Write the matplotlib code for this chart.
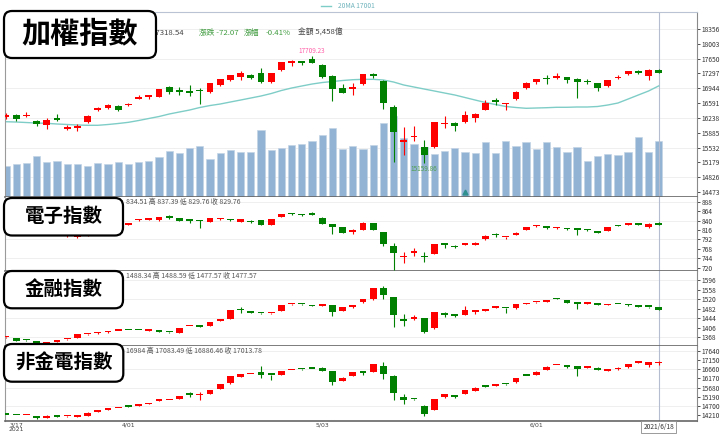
import numpy as np
import matplotlib
matplotlib.use("Agg")
import matplotlib.pyplot as plt
from matplotlib.patches import FancyBboxPatch
from matplotlib.lines import Line2D

plt.rcParams['font.family'] = ['Noto Sans CJK TC', 'DejaVu Sans']

# ---------------------------------------------------------------- data
# 65 trading days, 2021/3/16 .. 2021/6/18 (first candle half cut at left edge)
x_tick_pos = [1, 12, 31, 52]
x_tick_lab = ['3/17\n2021', '4/01', '5/03', '6/01']
last_label = '2021/6/18'

# 加權指數  (open, high, low, close)
twse_o = [16259, 16300, 16275, 16171, 16069, 16236, 15981, 16005, 16133, 16426, 16474, 16522, 16538,
          16695, 16743, 16743, 16967, 16903, 16886, 16895, 16848, 17022, 17141, 17205, 17260, 17300,
          17100, 17379, 17555, 17593, 17634, 17498, 17236, 16957, 16919, 17038, 17276, 17124, 16505,
          15665, 15780, 15538, 15552, 16086, 16110, 16133, 16243, 16438, 16633, 16560, 16688, 16943,
          17086, 17196, 17196, 17205, 17165, 17100, 17062, 17005, 17184, 17277, 17355, 17243, 17379]
twse_h = [16354, 16331, 16379, 16188, 16228, 16324, 16069, 16093, 16307, 16509, 16569, 16545, 16593,
          16784, 16791, 16926, 16998, 16966, 17022, 16950, 17069, 17165, 17260, 17363, 17284, 17419,
          17308, 17570, 17617, 17605, 17709.23, 17522, 17260, 17037, 17069, 17284, 17300, 17141, 16545,
          16021, 16045, 15712, 16140, 16275, 16148, 16409, 16353, 16664, 16712, 16605, 16879, 17093,
          17176, 17260, 17300, 17224, 17188, 17172, 17069, 17153, 17260, 17367, 17371, 17400, 17403]
twse_l = [16212, 16164, 16265, 16045, 15966, 16164, 15950, 15926, 16117, 16414, 16450, 16414, 16522,
          16688, 16688, 16736, 16807, 16783, 16760, 16569, 16831, 16998, 17117, 17141, 17176, 17061,
          17061, 17367, 17474, 17498, 17545, 17196, 16640, 16831, 16784, 17022, 17181, 16443, 15190,
          15354, 15688, 15159.86, 15533, 16000, 15926, 16117, 16140, 16426, 16545, 16426, 16676, 16926,
          17045, 17045, 17176, 17069, 16712, 17045, 16879, 16967, 17170, 17270, 17284, 17141, 17296]
twse_c = [16307, 16212, 16290, 16086, 16181, 16181, 16014, 16045, 16283, 16481, 16538, 16426, 16562,
          16743, 16791, 16919, 16862, 16862, 16824, 16879, 17062, 17157, 17253, 17315, 17196, 17093,
          17300, 17562, 17562, 17553, 17553, 17219, 16926, 16838, 16981, 17276, 17236, 16586, 15895,
          15675, 15790, 15354, 16133, 16096, 16045, 16307, 16331, 16593, 16628, 16570, 16862, 17062,
          17157, 17157, 17236, 17141, 17086, 17093, 16957, 17141, 17196, 17355, 17315, 17390.61, 17318.54]
ma20 = [16147, 16140, 16128, 16116, 16109, 16093, 16081, 16069, 16062, 16062, 16081, 16105, 16133,
        16176, 16224, 16271, 16331, 16379, 16426, 16486, 16533, 16569, 16617, 16664, 16712, 16760,
        16819, 16891, 16950, 16998, 17045, 17081, 17105, 17129, 17148, 17157, 17157, 17141, 17093,
        17022, 16974, 16926, 16879, 16831, 16784, 16724, 16664, 16605, 16557, 16510, 16486, 16467,
        16474, 16481, 16491, 16491, 16498, 16498, 16510, 16545, 16593, 16688, 16784, 16879, 17001]
# 成交金額 (億)
amount = [2993, 3188, 3315, 3968, 3383, 3549, 3257, 3257, 3023, 3315, 3188, 3383, 3257,
          3413, 3481, 3871, 4485, 4290, 4719, 4914, 3676, 4290, 4553, 4427, 4427, 6503,
          4602, 4719, 5012, 5109, 5480, 5996, 6669, 4631, 4924, 4622, 5021, 7215, 7868,
          5753, 5158, 4895, 4163, 4456, 4778, 4358, 4329, 5333, 4329, 5431, 4973, 5363,
          4651, 5363, 4875, 4388, 4875, 3481, 3998, 4163, 4095, 4388, 5792, 4427, 5458]
event_idx = 45

# 電子指數
elec_o = [816, 811, 814, 808, 804, 808, 800, 798, 801, 814, 821, 827, 829.5,
          840.5, 842.4, 841.4, 851.6, 845.7, 839.5, 839.2, 837.1, 843.2, 841.8, 837.1, 839.6, 841.4,
          828.7, 849.8, 856.2, 854.4, 858.4, 847, 830.5, 822.8, 811, 815.9, 833, 810.1, 776,
          747, 758.5, 747, 755.6, 778.3, 776, 777.8, 777.8, 792.3, 803.5, 796.9, 804, 815.9,
          825.6, 826.1, 820.3, 820.3, 820.3, 817.7, 813.4, 813.4, 826.4, 829.4, 831.2, 824.3, 834.51]
elec_h = [818, 816, 815, 809, 810, 812, 803, 802, 815, 823, 828, 829, 833,
          843, 845, 849, 854.1, 846.5, 843, 841, 846.5, 847, 843, 844, 840.5, 842,
          844.5, 856.5, 858, 856, 862.5, 848, 831, 823.5, 817.7, 835.5, 834, 811, 782.1,
          760.5, 770.7, 759.2, 780.5, 783.6, 777, 783.5, 785, 802, 807.5, 798, 810, 823.5,
          828, 827, 824, 821, 821, 818.5, 814.5, 823.5, 827.5, 833.8, 832, 832.8, 837.39]
elec_l = [811, 809, 806, 803, 803, 806, 797, 796, 800, 812, 819, 821, 828,
          839, 841, 840, 845, 838, 833, 820.3, 836, 842, 839, 836, 834.5, 828,
          828, 849, 853, 852.5, 853.5, 830, 805, 808.5, 805, 815, 815, 776, 713,
          731.2, 749.6, 735, 755, 770.9, 769.4, 777, 777, 791.5, 799, 793, 803, 815,
          824.5, 818.5, 819.5, 817, 803.2, 814.5, 808, 812.5, 825, 828.8, 828, 820.3, 829.76]
elec_c = [812, 814, 808, 805, 808, 810, 801.4, 799.5, 814, 821, 826, 824, 830.5,
          841.4, 843.2, 848.3, 845.7, 838.9, 838.9, 838.6, 845.7, 845.7, 841.2, 843.2, 835.5, 828.7,
          843.9, 855.9, 855.6, 853.8, 854.1, 830.5, 824.3, 809.1, 811.6, 834.5, 815.9, 779.6, 758.2,
          748, 759.2, 746.5, 779.6, 777.8, 771.9, 782.1, 783.6, 801.4, 803.2, 797.4, 809.1, 822.8,
          826.1, 820.3, 822.8, 817.7, 815.9, 815.2, 809.1, 822.8, 826.1, 833, 828.7, 832, 829.76]

# 金融指數
fin_o = [1366.5, 1365.2, 1356.3, 1353.2, 1340, 1349.2, 1358.2, 1365.2, 1378.3, 1382.8, 1386.8, 1392.8, 1396.3,
         1396.2, 1392.8, 1393.2, 1387, 1385.2, 1411.7, 1409.5, 1412, 1432, 1440, 1476.2, 1472, 1463,
         1462.5, 1472, 1498.5, 1499, 1496, 1493, 1496, 1472, 1486.8, 1506.8, 1518.8, 1562.8, 1529.2,
         1433.5, 1440, 1445.2, 1402.8, 1465.2, 1460, 1456, 1468.8, 1473.2, 1484.8, 1483, 1482.8, 1500,
         1506.5, 1509.2, 1520.2, 1516, 1506.8, 1500, 1505.2, 1496, 1500.2, 1498.8, 1489.4, 1489.3, 1488.34]
fin_h = [1369, 1366, 1357, 1354, 1350, 1357, 1360, 1379.5, 1380, 1387.5, 1393, 1394, 1397.5,
         1397, 1394.5, 1394, 1388, 1406, 1413, 1410.5, 1430, 1439.5, 1476.8, 1486.8, 1473, 1464.5,
         1464.5, 1497, 1500, 1500.5, 1497, 1498, 1497, 1487.5, 1497, 1521, 1566, 1573.2, 1530,
         1460, 1456, 1446, 1467.5, 1469.2, 1461, 1493.2, 1473.2, 1481, 1486.5, 1484, 1499.5, 1506,
         1508, 1517, 1525.2, 1517, 1507.5, 1507.5, 1506, 1501, 1501.5, 1499.5, 1490.5, 1490, 1488.59]
fin_l = [1365, 1352, 1354, 1338, 1339, 1348, 1357, 1364.5, 1377, 1382, 1386, 1392, 1395,
         1395, 1392, 1388.5, 1386, 1384.5, 1411, 1408, 1411, 1431, 1439, 1462.8, 1464.5, 1461.5,
         1461.5, 1471, 1497.5, 1497.5, 1491, 1492, 1452, 1471, 1486, 1506, 1518, 1518.8, 1409.2,
         1412, 1436, 1382.8, 1402, 1449.2, 1446.8, 1455, 1458.8, 1472, 1484, 1462.8, 1482, 1499,
         1505, 1508, 1518.5, 1504, 1478.8, 1499, 1495, 1495, 1498.5, 1494, 1488, 1484, 1477.57]
fin_c = [1367.2, 1353.2, 1356, 1340, 1349.2, 1356, 1358.8, 1378.8, 1378.8, 1386.8, 1392, 1393.2, 1396,
         1395.8, 1393.2, 1389.2, 1386.8, 1405.2, 1412, 1409.2, 1429.2, 1438.8, 1476, 1475.8, 1465.2, 1462.8,
         1463, 1496, 1498.8, 1498.6, 1492, 1493.2, 1469.2, 1486.8, 1496, 1520, 1565.2, 1536, 1456,
         1433.2, 1446.8, 1389.2, 1466.8, 1456, 1453.2, 1476, 1469.2, 1480, 1485.2, 1482.8, 1498.8, 1505.2,
         1506.8, 1516, 1520, 1505.2, 1500, 1506.8, 1496, 1500, 1500, 1494.8, 1489.2, 1489.1, 1477.57]

# 非金電指數
ex_o = [14232, 14230, 14222, 14173, 14083, 14226, 14150, 14130, 14173, 14385, 14500, 14590, 14672,
        14704, 14794, 14980, 15015, 15091, 15310, 15265, 15325, 15591, 15909, 16260, 16398, 16525,
        16355, 16350, 16610, 16658, 16675, 16738, 16562, 16031, 16313, 16562, 16525, 16828, 16313,
        15166, 15065, 14720, 14491, 15166, 15288, 15325, 15516, 15735, 15777, 15862, 15962, 16303,
        16350, 16615, 16876, 16881, 16828, 16733, 16738, 16573, 16653, 16759, 16998, 16881, 16984]
ex_h = [14250, 14250, 14250, 14190, 14200, 14240, 14170, 14150, 14360, 14465, 14520, 14610, 14680,
        14765, 14855, 15000, 15035, 15245, 15447, 15447, 15565, 15870, 16310, 16415, 16415, 16844,
        16365, 16575, 16630, 16670, 16690, 16750, 16575, 16220, 16505, 16575, 16930, 17040, 16325,
        15320, 15075, 14735, 15090, 15355, 15300, 15565, 15690, 15745, 15795, 15870, 16190, 16310,
        16540, 16805, 16895, 16895, 16840, 16750, 16750, 16590, 16750, 16930, 17015, 17035, 17083.49]
ex_l = [14205, 14200, 14210, 14030, 14070, 14120, 14140, 14120, 14160, 14375, 14495, 14585, 14655,
        14695, 14785, 14970, 15005, 15080, 15166, 15022, 15315, 15580, 15895, 16250, 16390, 16190,
        16084, 16340, 16600, 16640, 16655, 16565, 15819, 16020, 16300, 16350, 16510, 16150, 15022,
        14810, 15045, 14173, 14480, 15155, 15150, 15315, 15505, 15715, 15770, 15845, 15950, 16285,
        16340, 16605, 16870, 16745, 16297, 16725, 16600, 16565, 16640, 16745, 16990, 16759, 16886.46]
ex_c = [14226, 14222, 14230, 14051, 14189, 14136, 14157, 14136, 14348, 14454, 14507, 14598, 14667,
        14757, 14847, 14985, 15022, 15235, 15304, 15272, 15553, 15856, 16297, 16403, 16403, 16350,
        16350, 16562, 16615, 16653, 16669, 16578, 16004, 16207, 16493, 16440, 16918, 16403, 15410,
        15022, 15060, 14279, 15076, 15341, 15166, 15553, 15676, 15729, 15782, 15856, 16175, 16297,
        16525, 16791, 16881, 16759, 16669, 16738, 16615, 16578, 16738, 16918, 17003, 17024, 17013.78]

twse_ticks = [14473, 14826, 15179, 15532, 15885, 16238, 16591, 16944, 17297, 17650, 18003, 18356]
elec_ticks = [720, 744, 768, 792, 816, 840, 864, 888]
fin_ticks = [1368, 1406, 1444, 1482, 1520, 1558, 1596]
ex_ticks = [14210, 14700, 15190, 15680, 16170, 16660, 17150, 17640]

# ---------------------------------------------------------------- style
RED = '#ff0000'
GREEN = '#008000'
VOL_C = '#93b3d4'
MA_C = '#7fcdc7'
GRID_C = '#efefef'
W, H = 720, 437
XMIN, XMAX = -0.1, 67.75
LAST = len(twse_c) - 1


def rect(top, bot):
    return [5 / W, 1 - bot / H, 692 / W, (bot - top) / H]


def draw_candles(ax, o, h, l, c):
    o, h, l, c = map(np.asarray, (o, h, l, c))
    x = np.arange(len(o))
    col = np.where(c >= o, RED, GREEN)
    ax.vlines(x, l, h, colors=col, lw=0.8, zorder=3)
    y0, y1 = ax.get_ylim()
    px = (y1 - y0) / (ax.get_position().height * H)
    body = np.maximum(np.abs(c - o), 1.5 * px)
    ax.bar(x, body, bottom=np.minimum(o, c), width=0.66, color=col, lw=0, zorder=4)


def style(ax, ticks, top_spine=False):
    ax.set_xlim(XMIN, XMAX)
    ax.yaxis.tick_right()
    ax.set_yticks(ticks)
    ax.set_yticklabels([str(t) for t in ticks])
    ax.tick_params(axis='y', labelsize=4.8, length=2, pad=1.5, colors='#333333', width=0.6)
    ax.tick_params(axis='x', length=0, labelbottom=False)
    ax.spines['left'].set_color('#9a9a9a')
    ax.spines['left'].set_linewidth(0.8)
    ax.spines['right'].set_color('#8a8a8a')
    ax.spines['right'].set_linewidth(0.8)
    ax.spines['bottom'].set_color('#666666')
    ax.spines['bottom'].set_linewidth(1.2)
    if top_spine:
        ax.spines['top'].set_color('#b9c3d3')
        ax.spines['top'].set_linewidth(0.8)
    else:
        ax.spines['top'].set_visible(False)
    ax.axvline(LAST, color='#b5bdd0', lw=0.8, zorder=2)


def label_box(x0, y0, x1, y1, text, size):
    box = FancyBboxPatch((x0 / 100, (H - y1) / 100), (x1 - x0) / 100, (y1 - y0) / 100,
                         boxstyle='round,pad=0,rounding_size=0.08',
                         transform=fig.dpi_scale_trans, fc='white', ec='black', lw=1.6, zorder=10)
    fig.add_artist(box)
    fig.text((x0 + x1) / 2 / W, 1 - (y0 + y1) / 2 / H, text, ha='center', va='center',
             fontsize=size, weight='bold', color='black', zorder=11)


fig = plt.figure(figsize=(7.2, 4.37), dpi=100)

# ---------------------------------------------------------------- 加權指數 + 成交金額
axv = fig.add_axes(rect(12, 197))
ax1 = fig.add_axes(rect(12, 197), sharex=axv)
ax1.patch.set_visible(False)
axv.axis('off')
axv.set_ylim(0, 18000)
ax1.set_ylim(14354, 18761)
style(ax1, twse_ticks, top_spine=True)
axv.hlines(twse_ticks[::-2], 0, 1, colors=GRID_C, lw=0.7, transform=ax1.get_yaxis_transform(), zorder=0)
axv.bar(np.arange(len(amount)), amount, width=0.72, color=VOL_C, ec='#c3d4e6', lw=0.5, zorder=1)
ax1.plot(np.arange(len(ma20)), ma20, color=MA_C, lw=1.0, zorder=2)
draw_candles(ax1, twse_o, twse_h, twse_l, twse_c)

hi = int(np.argmax(twse_h))
lo = int(np.argmin(twse_l))
ax1.annotate(f'{twse_h[hi]:.2f}', (hi, twse_h[hi]), xytext=(0, 1), textcoords='offset points',
             ha='center', va='bottom', fontsize=4.6, color='#ff5ea8')
ax1.annotate(f'{twse_l[lo]:.2f}', (lo, twse_l[lo]), xytext=(0, -1), textcoords='offset points',
             ha='center', va='top', fontsize=4.6, color='#4f9f4f', zorder=6)
ax1.plot([event_idx], [0.025], marker='^', ms=3.5, color='#2f8f8f',
         transform=ax1.get_xaxis_transform(), clip_on=False, zorder=6)

# legend above the top panel
fig.add_artist(Line2D([321 / W, 331 / W], [1 - 6 / H] * 2, color=MA_C, lw=1.0))
fig.text(338 / W, 1 - 6 / H, f'20MA {ma20[-1]}', fontsize=4.8, color='#6fb4bd', va='center')

# header line
chg = twse_c[-1] - twse_c[-2]
fig.text(151.5 / W, 1 - 33 / H, f'{twse_c[-1]:.2f}', fontsize=5.6, color='#444444', va='center')
fig.text(199 / W, 1 - 33 / H, f'漲跌 {chg:.2f}', fontsize=5.6, color='#3f9b3f', va='center')
fig.text(244 / W, 1 - 33 / H, '漲幅', fontsize=5.6, color='#3f9b3f', va='center')
fig.text(266 / W, 1 - 33 / H, f'{chg / twse_c[-2] * 100:.2f}%', fontsize=5.6, color='#3f9b3f', va='center')
fig.text(298 / W, 1 - 33 / H, f'金額 {amount[-1]:,}億', fontsize=5.6, color='#444444', va='center')

# ---------------------------------------------------------------- sub panels
panels = [
    ((197, 271), (711.6, 899.9), elec_ticks, (elec_o, elec_h, elec_l, elec_c), '電子指數'),
    ((271, 346), (1332, 1632), fin_ticks, (fin_o, fin_h, fin_l, fin_c), '金融指數'),
    ((346, 421), (13907, 17890), ex_ticks, (ex_o, ex_h, ex_l, ex_c), '非金電指數'),
]
axes = []
for (top, bot), ylim, ticks, ohlc, name in panels:
    ax = fig.add_axes(rect(top, bot), sharex=ax1)
    ax.set_ylim(*ylim)
    style(ax, ticks)
    for t in ticks[::-2]:
        ax.axhline(t, color=GRID_C, lw=0.7, zorder=0)
    draw_candles(ax, *ohlc)
    o, h, l, c = (v[-1] for v in ohlc)
    op = f'{o:g}' if float(o).is_integer() else f'{o:.2f}'
    fig.text(126 / W, 1 - (top + 5) / H, f'{op} 高 {h:.2f} 低 {l:.2f} 收 {c:.2f}',
             fontsize=5.0, color='#555555', va='center')
    axes.append(ax)

ax4 = axes[-1]
ax4.set_xticks(x_tick_pos)
ax4.set_xticklabels(x_tick_lab, fontsize=4.4, color='#444444', linespacing=0.9,
                    family='DejaVu Sans')
ax4.tick_params(axis='x', length=0, pad=1.2, labelbottom=True)
ax4.text(LAST, -0.03, last_label, transform=ax4.get_xaxis_transform(), ha='center', va='top',
         fontsize=4.8, color='#333333',
         bbox=dict(boxstyle='square,pad=0.3', fc='white', ec='#8a8a8a', lw=0.6))

# ---------------------------------------------------------------- name boxes
label_box(4, 11, 156, 58, '加權指數', 21)
label_box(4, 198, 123, 235.5, '電子指數', 14)
label_box(4, 271, 123, 308.3, '金融指數', 14)
label_box(4, 344, 123.3, 381.7, '非金電指數', 14)

fig.savefig('out.png', dpi=100)
